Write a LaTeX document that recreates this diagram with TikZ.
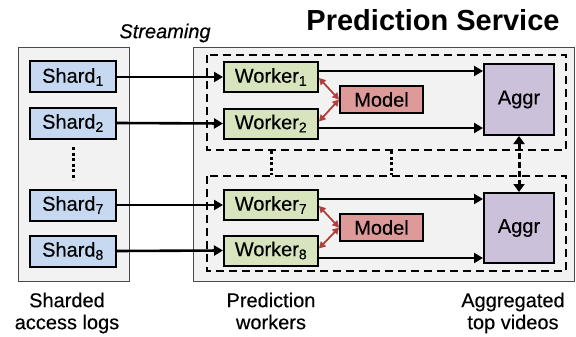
\documentclass[tikz,border=0pt]{standalone}
\usepackage{fontspec}
\setmainfont{Liberation Sans}[FakeBold=0.3]
\newfontfamily\titlefont{Liberation Sans Bold}
\usetikzlibrary{arrows.meta}
\definecolor{shardc}{HTML}{C6D9F0}
\definecolor{workerc}{HTML}{D7E4BD}
\definecolor{modelc}{HTML}{DE9A98}
\definecolor{aggrc}{HTML}{CCC1DA}
\definecolor{panelc}{HTML}{F2F2F2}
\definecolor{panelb}{HTML}{4A4A4A}
\definecolor{redarr}{HTML}{B0403C}
\tikzset{
  lbl/.style={font=\fontsize{20}{22}\selectfont, inner sep=0pt},
  box/.style={draw=black, line width=2pt, inner sep=0pt, font=\fontsize{20}{22}\selectfont},
  shardbox/.style={box, fill=shardc, minimum width=86pt, minimum height=31pt},
  workerbox/.style={box, fill=workerc, minimum width=94pt, minimum height=30pt},
  modelbox/.style={box, fill=modelc, minimum width=83pt, minimum height=27pt},
  aggrbox/.style={box, fill=aggrc, minimum width=70pt, minimum height=71pt},
  panel/.style={draw=panelb, fill=panelc, line width=0.8pt},
  dbox/.style={draw=black, line width=2.2pt, dash pattern=on 8pt off 5pt},
  flow/.style={line width=2.6pt, -{Triangle[length=9pt,width=10pt]}},
  redflow/.style={draw=redarr, line width=1.8pt, {Triangle[length=6.5pt,width=7pt]}-{Triangle[length=6.5pt,width=7pt]}},
  vflow/.style={line width=3pt, dash pattern=on 6pt off 3pt, {Triangle[length=8pt,width=11pt]}-{Triangle[length=8pt,width=11pt]}},
  dotline/.style={line width=3pt, dash pattern=on 3pt off 2.5pt}
}
\begin{document}
\begin{tikzpicture}[x=1pt,y=-1pt]
\useasboundingbox (0,0) rectangle (576,337);
% panels
\draw[panel] (18,47) rectangle (129,281);
\draw[panel] (193,47) rectangle (574,281);
% dashed groups
\draw[dbox] (207,55) rectangle (566,150);
\draw[dbox] (207,176) rectangle (566,271);
% titles
\node[lbl, font=\fontsize{20}{22}\selectfont\itshape] (stream) at (165,33) {Streaming};
\node[lbl, font=\fontsize{29}{32}\titlefont] (title) at (433,20) {Prediction Service};
% shards
\node[shardbox] (s1) at (73,77) {Shard\textsubscript{1}};
\node[shardbox] (s2) at (73,123) {Shard\textsubscript{2}};
\node[shardbox] (s7) at (73,205) {Shard\textsubscript{7}};
\node[shardbox] (s8) at (73,251) {Shard\textsubscript{8}};
% workers
\node[workerbox] (w1) at (271,77) {Worker\textsubscript{1}};
\node[workerbox] (w2) at (271,123.5) {Worker\textsubscript{2}};
\node[workerbox] (w7) at (271,205) {Worker\textsubscript{7}};
\node[workerbox] (w8) at (271,250.5) {Worker\textsubscript{8}};
% models
\node[modelbox] (m1) at (381.5,99.5) {Model};
\node[modelbox] (m2) at (381.5,227.5) {Model};
% aggregators
\node[aggrbox] (a1) at (519,99.5) {Aggr};
\node[aggrbox, minimum height=70pt] (a2) at (519,228) {Aggr};
% dotted continuation marks
\draw[dotline] (73,147) -- (73,180);
\draw[dotline] (271,151) -- (271,175);
\draw[dotline] (391,151) -- (391,175);
% streaming arrows
\draw[flow] (s1.east) -- (w1.west);
\draw[flow] (s2.east) -- (w2.west);
\draw[flow] (s7.east) -- (w7.west);
\draw[flow] (s8.east) -- (w8.west);
% worker to aggr
\draw[flow] ([yshift=6pt]w1.east) -- ([yshift=6pt]w1.east -| a1.west);
\draw[flow] ([yshift=-4.5pt]w2.east) -- ([yshift=-4.5pt]w2.east -| a1.west);
\draw[flow] ([yshift=6pt]w7.east) -- ([yshift=6pt]w7.east -| a2.west);
\draw[flow] ([yshift=-7.5pt]w8.east) -- ([yshift=-7.5pt]w8.east -| a2.west);
% model links
\draw[redflow] ([yshift=-1pt]w1.east) -- (m1.west);
\draw[redflow] ([yshift=2pt]w2.east) -- (m1.west);
\draw[redflow] ([yshift=-1pt]w7.east) -- (m2.west);
\draw[redflow] ([yshift=2pt]w8.east) -- (m2.west);
% aggr exchange
\draw[vflow] (a1.south) -- (a2.north);
% bottom labels
\node[lbl, align=center, anchor=north] (lab1) at (67,292.5) {Sharded\\access logs};
\node[lbl, align=center, anchor=north] (lab2) at (271,292.5) {Prediction\\workers};
\node[lbl, align=center, anchor=north] (lab3) at (513,292.5) {Aggregated\\top videos};
\end{tikzpicture}
\end{document}
